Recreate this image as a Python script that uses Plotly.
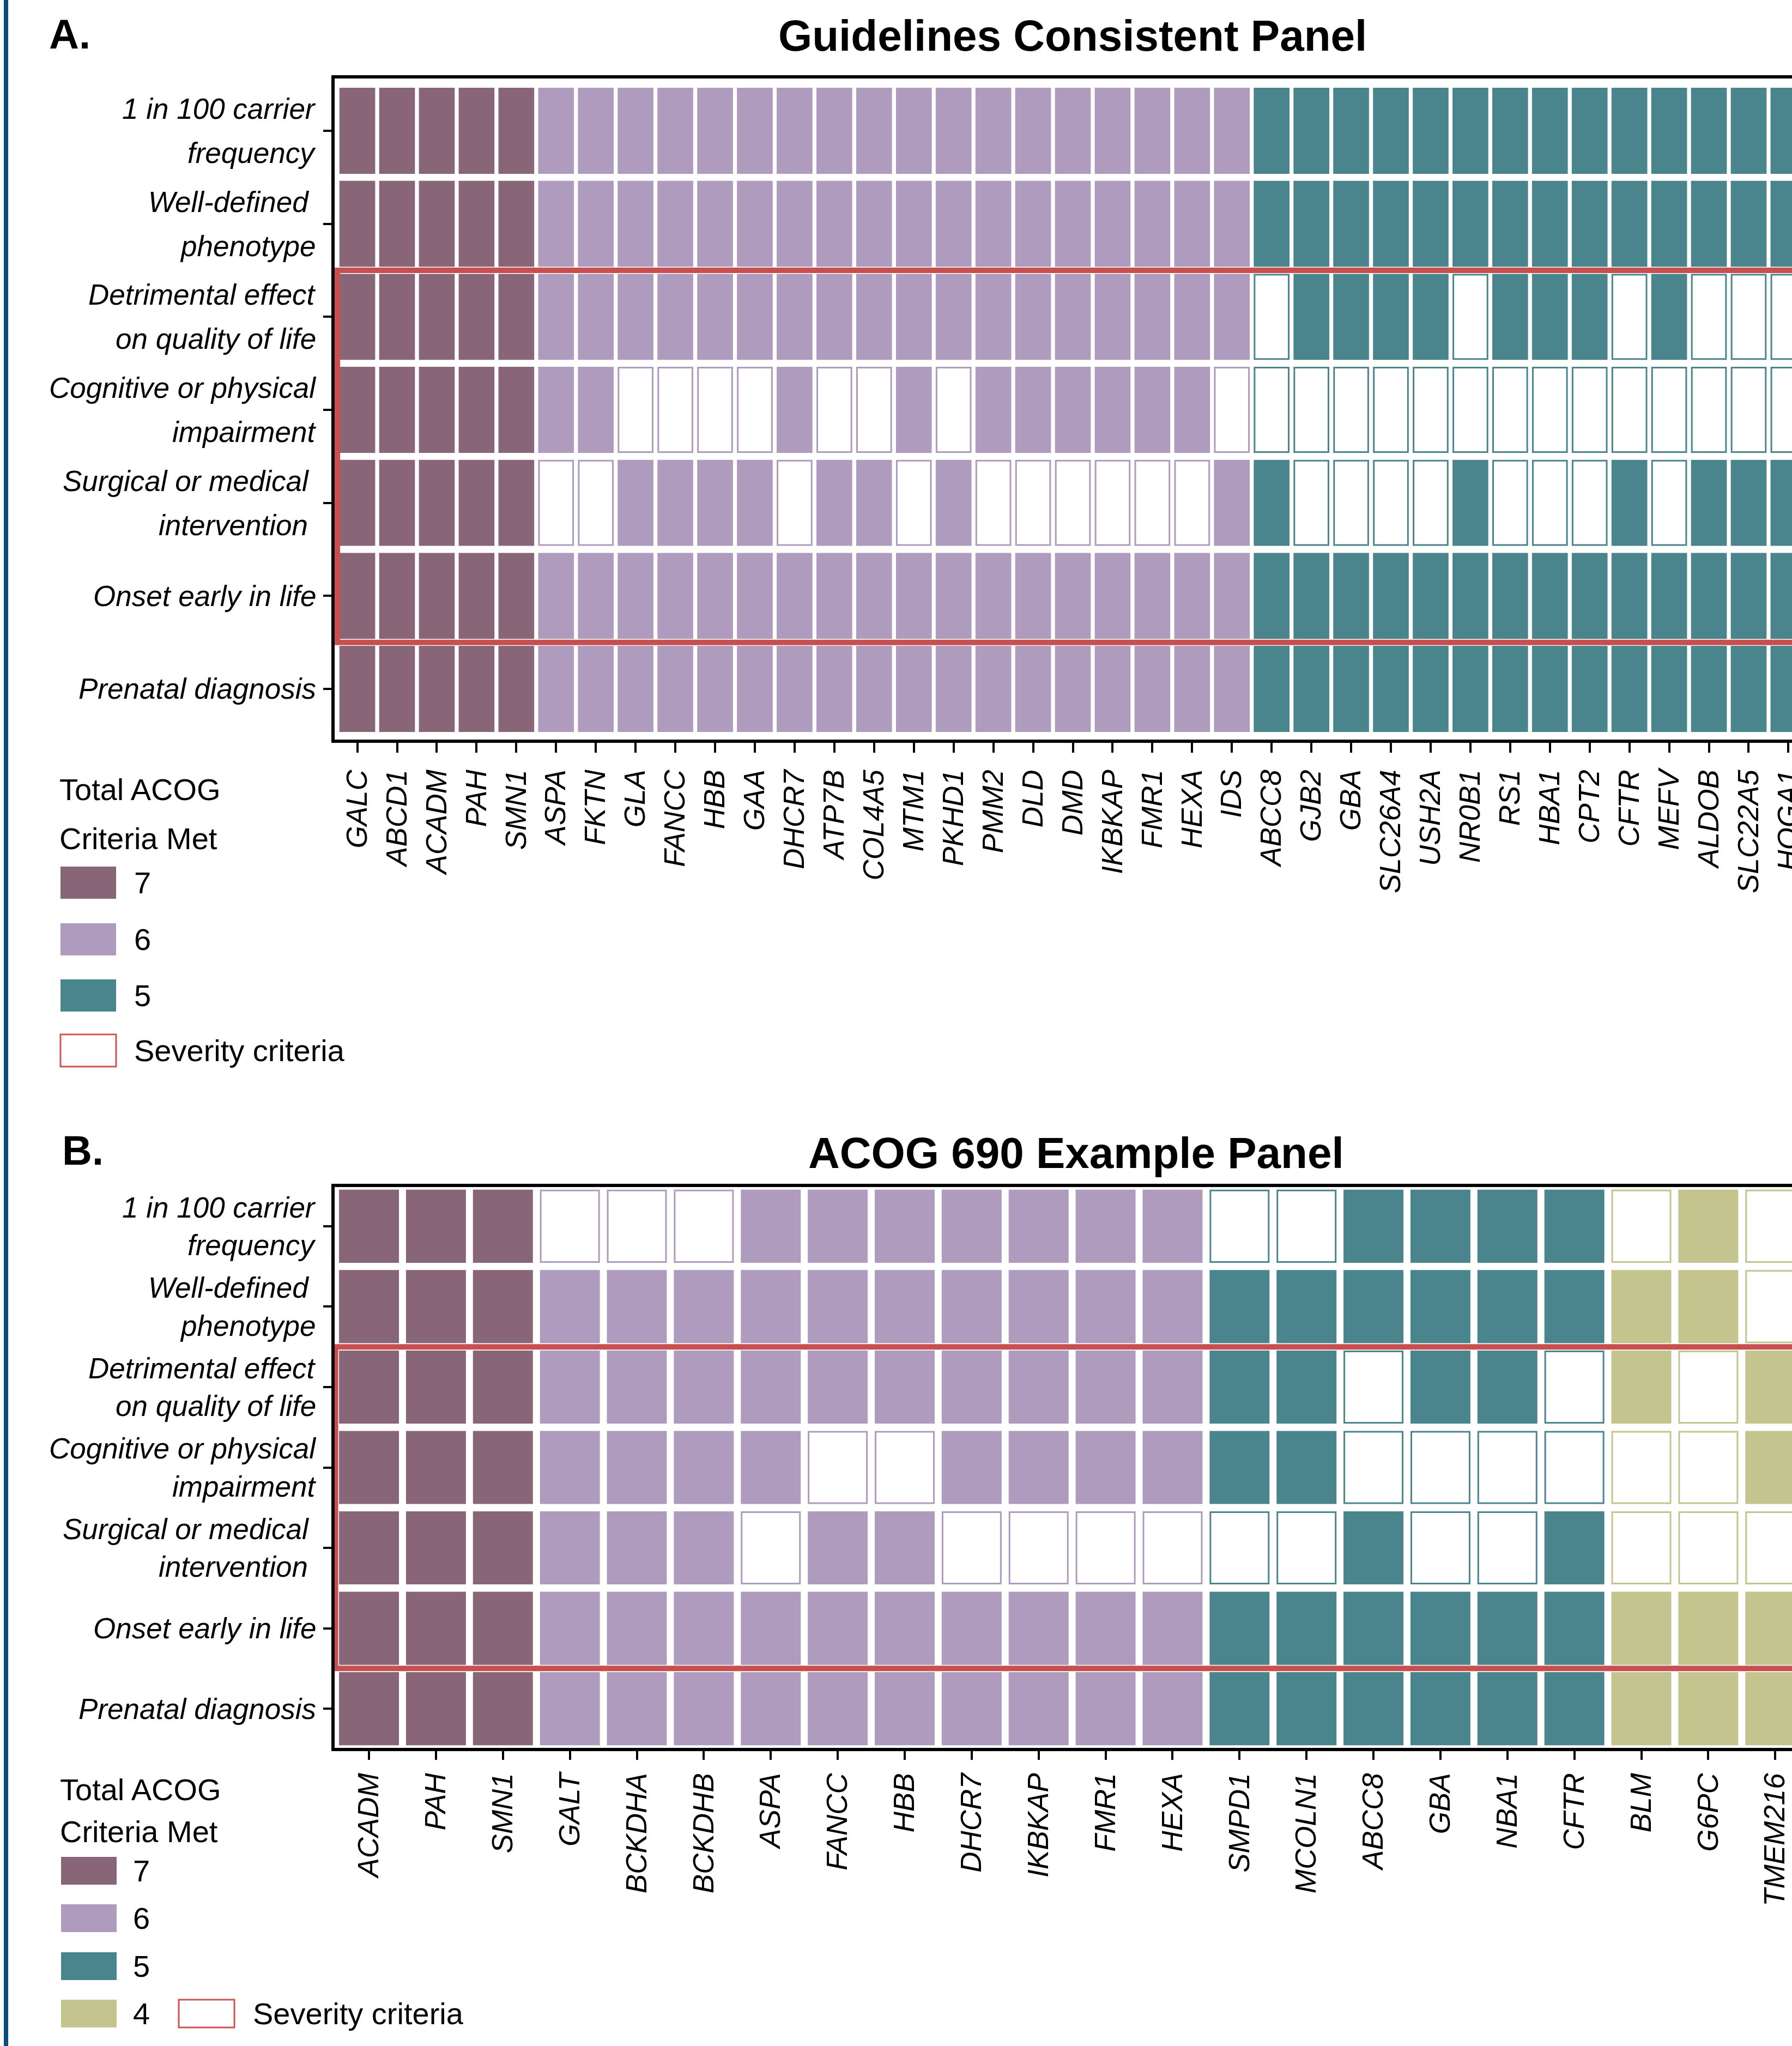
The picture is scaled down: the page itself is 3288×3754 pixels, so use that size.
import plotly.graph_objects as go

W, H = 3288, 3754
FONT = "Liberation Sans, Arial, Helvetica, sans-serif"

# ---------------- data ----------------
criteria_lines = [
    ["1 in 100 carrier", "frequency"],
    ["Well-defined\u00a0", "phenotype"],
    ["Detrimental effect", "on quality of life"],
    ["Cognitive or physical", "impairment"],
    ["Surgical or medical\u00a0", "intervention\u00a0"],
    ["Onset early in life"],
    ["Prenatal diagnosis"],
]
severity_rows = [2, 3, 4, 5]

genes_a = ["GALC", "ABCD1", "ACADM", "PAH", "SMN1",
           "ASPA", "FKTN", "GLA", "FANCC", "HBB", "GAA", "DHCR7", "ATP7B", "COL4A5",
           "MTM1", "PKHD1", "PMM2", "DLD", "DMD", "IKBKAP", "FMR1", "HEXA", "IDS",
           "ABCC8", "GJB2", "GBA", "SLC26A4", "USH2A", "NR0B1", "RS1", "HBA1", "CPT2",
           "CFTR", "MEFV", "ALDOB", "SLC22A5", "HOGA1"]
a_carrier = [1, 1, 1, 1, 1, 1, 1, 1, 1, 1, 1, 1, 1, 1, 1, 1, 1, 1, 1, 1, 1, 1, 1,
             1, 1, 1, 1, 1, 1, 1, 1, 1, 1, 1, 1, 1, 1]
a_phenotype = [1, 1, 1, 1, 1, 1, 1, 1, 1, 1, 1, 1, 1, 1, 1, 1, 1, 1, 1, 1, 1, 1, 1,
               1, 1, 1, 1, 1, 1, 1, 1, 1, 1, 1, 1, 1, 1]
a_detrimental = [1, 1, 1, 1, 1, 1, 1, 1, 1, 1, 1, 1, 1, 1, 1, 1, 1, 1, 1, 1, 1, 1, 1,
                 0, 1, 1, 1, 1, 0, 1, 1, 1, 0, 1, 0, 0, 0]
a_cognitive = [1, 1, 1, 1, 1, 1, 1, 0, 0, 0, 0, 1, 0, 0, 1, 0, 1, 1, 1, 1, 1, 1, 0,
               0, 0, 0, 0, 0, 0, 0, 0, 0, 0, 0, 0, 0, 0]
a_surgical = [1, 1, 1, 1, 1, 0, 0, 1, 1, 1, 1, 0, 1, 1, 0, 1, 0, 0, 0, 0, 0, 0, 1,
              1, 0, 0, 0, 0, 1, 0, 0, 0, 1, 0, 1, 1, 1]
a_onset = [1, 1, 1, 1, 1, 1, 1, 1, 1, 1, 1, 1, 1, 1, 1, 1, 1, 1, 1, 1, 1, 1, 1,
           1, 1, 1, 1, 1, 1, 1, 1, 1, 1, 1, 1, 1, 1]
a_prenatal = [1, 1, 1, 1, 1, 1, 1, 1, 1, 1, 1, 1, 1, 1, 1, 1, 1, 1, 1, 1, 1, 1, 1,
              1, 1, 1, 1, 1, 1, 1, 1, 1, 1, 1, 1, 1, 1]

genes_b = ["ACADM", "PAH", "SMN1", "GALT", "BCKDHA", "BCKDHB", "ASPA", "FANCC", "HBB",
           "DHCR7", "IKBKAP", "FMR1", "HEXA", "SMPD1", "MCOLN1", "ABCC8", "GBA", "NBA1",
           "CFTR", "BLM", "G6PC", "TMEM216"]
b_carrier = [1, 1, 1, 0, 0, 0, 1, 1, 1, 1, 1, 1, 1, 0, 0, 1, 1, 1, 1, 0, 1, 0]
b_phenotype = [1, 1, 1, 1, 1, 1, 1, 1, 1, 1, 1, 1, 1, 1, 1, 1, 1, 1, 1, 1, 1, 0]
b_detrimental = [1, 1, 1, 1, 1, 1, 1, 1, 1, 1, 1, 1, 1, 1, 1, 0, 1, 1, 0, 1, 0, 1]
b_cognitive = [1, 1, 1, 1, 1, 1, 1, 0, 0, 1, 1, 1, 1, 1, 1, 0, 0, 0, 0, 0, 0, 1]
b_surgical = [1, 1, 1, 1, 1, 1, 0, 1, 1, 0, 0, 0, 0, 0, 0, 1, 0, 0, 1, 0, 0, 0]
b_onset = [1, 1, 1, 1, 1, 1, 1, 1, 1, 1, 1, 1, 1, 1, 1, 1, 1, 1, 1, 1, 1, 1]
b_prenatal = [1, 1, 1, 1, 1, 1, 1, 1, 1, 1, 1, 1, 1, 1, 1, 1, 1, 1, 1, 1, 1, 1]

rows_a = [a_carrier, a_phenotype, a_detrimental, a_cognitive, a_surgical, a_onset, a_prenatal]
rows_b = [b_carrier, b_phenotype, b_detrimental, b_cognitive, b_surgical, b_onset, b_prenatal]

legend_levels_a = [7, 6, 5]
legend_levels_b = [7, 6, 5, 4]

# ---------------- style ----------------
palette = {7: "#886677", 6: "#AE9BBE", 5: "#4A858D", 4: "#C4C48E"}
RED = "#C84F50"
EMPTY_LW = 3
LEG_FONT = 56


def px(x):
    return x / W


def py(y):
    return 1 - y / H


fig = go.Figure()

panels = [
    dict(genes=genes_a, rows=rows_a, xa="x", ya="y",
         left=614, top=144, bottom=1357, xr=[-0.570, 36.09], yr=[6.545, -0.5625],
         bw=0.90, bh=0.925, ticklen=18, standoff=10, lab_right=582, lab_off=0.237),
    dict(genes=genes_b, rows=rows_b, xa="x2", ya="y2",
         left=614, top=2178, bottom=3207, xr=[-0.513, 21.25], yr=[6.488, -0.488],
         bw=0.895, bh=0.91, ticklen=16, standoff=3, lab_right=582, lab_off=0.237),
]

for p in panels:
    genes, rows = p["genes"], p["rows"]
    totals = [sum(col) for col in zip(*rows)]
    ppx = (W - p["left"]) / (p["xr"][1] - p["xr"][0])
    ppy = (p["bottom"] - p["top"]) / (p["yr"][0] - p["yr"][1])
    for r, row in enumerate(rows):
        fills, lines, lws, widths, heights, bases = [], [], [], [], [], []
        for met, tot in zip(row, totals):
            c = palette[tot]
            if met:
                fills.append(c); lines.append(c); lws.append(0)
                widths.append(p["bw"]); hh = p["bh"]
            else:
                fills.append("white"); lines.append(c); lws.append(EMPTY_LW)
                widths.append(p["bw"] - EMPTY_LW / ppx); hh = p["bh"] - EMPTY_LW / ppy
            heights.append(hh)
            bases.append(r - hh / 2)
        fig.add_trace(go.Bar(
            x=genes, y=heights, base=bases, width=widths,
            marker=dict(color=fills, line=dict(color=lines, width=lws)),
            xaxis=p["xa"], yaxis=p["ya"], showlegend=False, hoverinfo="skip",
        ))

    # severity criteria frame
    fig.add_shape(type="rect", xref=p["xa"], yref=p["ya"],
                  x0=-0.5, x1=len(genes) - 0.5,
                  y0=min(severity_rows) - 0.5, y1=max(severity_rows) + 0.5,
                  line=dict(color=RED, width=10), fillcolor="rgba(0,0,0,0)", layer="above")

    # row labels
    for r, lines_txt in enumerate(criteria_lines):
        if len(lines_txt) == 2:
            offs = [-p["lab_off"], p["lab_off"]]
        else:
            offs = [0]
        for t, o in zip(lines_txt, offs):
            fig.add_annotation(text=t, xref="paper", yref=p["ya"], x=px(p["lab_right"]), y=r + o,
                               xanchor="right", yanchor="middle", showarrow=False,
                               font=dict(family=FONT, size=53, color="black", style="italic"))

    axis_common = dict(showgrid=False, zeroline=False, showline=True, linecolor="black",
                       linewidth=6, ticks="outside", tickcolor="black", tickwidth=4,
                       automargin=False)
    xkey = "xaxis" if p["xa"] == "x" else "xaxis2"
    ykey = "yaxis" if p["ya"] == "y" else "yaxis2"
    fig.update_layout({
        xkey: dict(axis_common, domain=[px(p["left"]), 1.0], range=p["xr"], type="category",
                   categoryorder="array", categoryarray=genes, tickangle=-90,
                   ticklen=p["ticklen"], mirror=True, anchor=p["ya"],
                   ticklabelstandoff=p["standoff"],
                   tickfont=dict(family=FONT, size=53, color="black", style="italic")),
        ykey: dict(axis_common, domain=[py(p["bottom"]), py(p["top"])], range=p["yr"],
                   tickvals=list(range(len(criteria_lines))), showticklabels=False,
                   ticklen=15, mirror=False, anchor=p["xa"]),
    })

# panel letters and titles
for txt, x, y, size, anchor in [
    ("<b>A.</b>", 88, 62, 76, "left"),
    ("<b>B.</b>", 112, 2110, 76, "left"),
    ("<b>Guidelines Consistent Panel</b>", 1968, 65, 80, "center"),
    ("<b>ACOG 690 Example Panel</b>", 1974, 2115, 80, "center"),
]:
    fig.add_annotation(text=txt, xref="paper", yref="paper", x=px(x), y=py(y),
                       xanchor=anchor, yanchor="middle", showarrow=False,
                       font=dict(family=FONT, size=size, color="black"))


def legend(levels, title_y, sw_x, sw_tops, sw_h, lab_x, sev_box, sev_lab):
    for t, ty in zip(["Total ACOG", "Criteria Met"], title_y):
        fig.add_annotation(text=t, xref="paper", yref="paper", x=px(sw_x - 4), y=py(ty),
                           xanchor="left", yanchor="middle", showarrow=False,
                           font=dict(family=FONT, size=LEG_FONT, color="black"))
    for lvl, top in zip(levels, sw_tops):
        fig.add_shape(type="rect", xref="paper", yref="paper",
                      x0=px(sw_x), x1=px(sw_x + 102), y0=py(top + sw_h), y1=py(top),
                      fillcolor=palette[lvl], line=dict(width=0))
        fig.add_annotation(text=str(lvl), xref="paper", yref="paper", x=px(lab_x), y=py(top + sw_h / 2),
                           xanchor="left", yanchor="middle", showarrow=False,
                           font=dict(family=FONT, size=LEG_FONT, color="black"))
    bx, btop = sev_box
    fig.add_shape(type="rect", xref="paper", yref="paper",
                  x0=px(bx), x1=px(bx + 102), y0=py(btop + sw_h), y1=py(btop),
                  fillcolor="white", line=dict(color="#D05252", width=3))
    fig.add_annotation(text="Severity criteria", xref="paper", yref="paper", x=px(sev_lab),
                       y=py(btop + sw_h / 2), xanchor="left", yanchor="middle", showarrow=False,
                       font=dict(family=FONT, size=LEG_FONT, color="black"))


legend(legend_levels_a, (1449, 1538), 111, [1590, 1694, 1797], 59, 244, (111, 1898), 244)
legend(legend_levels_b, (3283, 3360), 112, [3407, 3494, 3582, 3669], 51, 242, (328, 3669), 462)

# left page rule
fig.add_shape(type="line", xref="paper", yref="paper", x0=px(11), x1=px(11), y0=0, y1=1,
              line=dict(color="#0B4E7C", width=8))

fig.update_layout(
    width=W, height=H, margin=dict(l=0, r=0, t=0, b=0, autoexpand=False),
    paper_bgcolor="white", plot_bgcolor="white",
    barmode="overlay", showlegend=False,
)

fig.write_html("out.html")
